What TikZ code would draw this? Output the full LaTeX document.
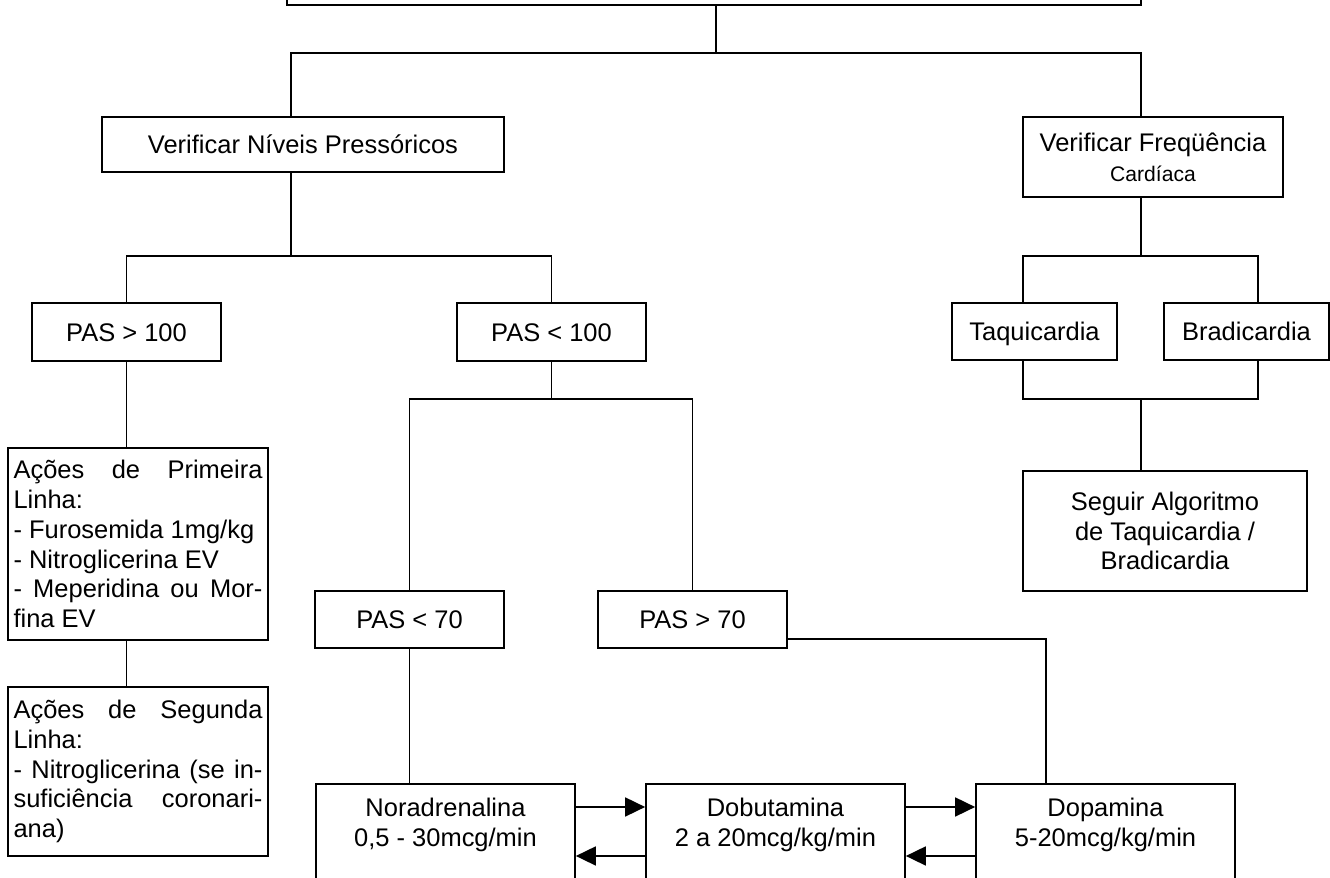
\documentclass[tikz,border=0pt]{standalone}
\usepackage{fontspec}
\setmainfont{Liberation Sans}
\usetikzlibrary{arrows.meta}

\newcommand{\fonte}{\fontsize{14.5}{17}\selectfont}
\newcommand{\fontemenor}{\fontsize{12}{17}\selectfont}

\begin{document}
\begin{tikzpicture}[x=0.02cm, y=-0.02cm,
    caixa/.style={draw, rectangle, line width=1pt, inner sep=0pt, align=center, font=\fonte},
    teste/.style={caixa, minimum width=3.78cm, minimum height=1.15cm, text height=0.37cm, text depth=0cm},
    ritmo/.style={caixa, minimum width=3.3cm, minimum height=1.14cm, text height=0.37cm, text depth=0cm},
    acoes/.style={caixa, minimum width=5.2cm, text width=4.98cm, align=justify},
    droga/.style={caixa, anchor=north, minimum width=5.18cm, inner ysep=0.28cm, text depth=1cm},
    linha/.style={line width=1pt},
    seta/.style={line width=1pt, -{Triangle[length=0.4cm, width=0.38cm]}}
]
\clip (0,0) rectangle (1330,878);

% Topo (cortado)
\node[caixa, minimum width=17.08cm, minimum height=1.3cm] (topo) at (714,-27.5) {};

% Primeiro nivel
\node[caixa, minimum width=8.04cm, minimum height=1.1cm] (nivel) at (303,144.5) {Verificar Níveis Pressóricos};
\node[caixa, minimum width=5.2cm, minimum height=1.6cm] (freq) at (1153,157) {Verificar Freqüência\\{\fontemenor Cardíaca}};

% Pressao
\node[teste] (pas100a) at (126.5,332) {PAS > 100};
\node[teste] (pas100b) at (551.5,332) {PAS < 100};
\node[teste] (pas70a) at (409.5,619.5) {PAS < 70};
\node[teste] (pas70b) at (692.5,619.5) {PAS > 70};

% Frequencia
\node[ritmo] (taqui) at (1034.5,331.5) {Taquicardia};
\node[ritmo] (bradi) at (1246.5,331.5) {Bradicardia};
\node[caixa, minimum width=5.68cm, minimum height=2.4cm] (seguir) at (1165,531) {Seguir Algoritmo\\de Taquicardia /\\Bradicardia};

% Acoes
\node[acoes, minimum height=3.84cm] (primeira) at (138,544) {Ações de Primeira\linebreak Linha:\\- Furosemida 1mg/kg\\- Nitroglicerina EV\\- Meperidina ou Mor-\linebreak fina EV};
\node[acoes, minimum height=3.38cm] (segunda) at (138,771.5) {Ações de Segunda\linebreak Linha:\\- Nitroglicerina (se in-\linebreak suficiência coronari-\linebreak ana)};

% Drogas
\node[droga] (nora) at (445.5,783) {Noradrenalina\\0,5 - 30mcg/min};
\node[droga] (dobu) at (775.5,783) {Dobutamina\\2 a 20mcg/kg/min};
\node[droga] (dopa) at (1105.5,783) {Dopamina\\5-20mcg/kg/min};

% Juncoes
\coordinate (r0) at (716,53);
\coordinate (r0l) at (291,53);
\coordinate (r0r) at (1141,53);
\coordinate (r1) at (291,256);
\coordinate (r2) at (1141,256);
\coordinate (r2l) at (1023,256);
\coordinate (r2r) at (1258,256);
\coordinate (r3) at (1141,399);
\coordinate (r3l) at (1023,399);
\coordinate (r3r) at (1258,399);
\coordinate (r4) at (551.5,399);
\coordinate (r5) at (1046,639);

% Ligacoes
\draw[linha] (topo.south -| r0) -- (r0);
\draw[linha] (nivel.north -| r0l) |- (r0r) -- (freq.north -| r0r);
\draw[linha] (nivel.south -| r1) -- (r1);
\draw[linha] (pas100a.north) |- (r1) -| (pas100b.north);
\draw[linha] (freq.south -| r2) -- (r2);
\draw[linha] (taqui.north -| r2l) |- (r2r) -- (bradi.north -| r2r);
\draw[linha] (taqui.south -| r3l) |- (r3r) -- (bradi.south -| r3r);
\draw[linha] (r3) -- (seguir.north -| r3);
\draw[linha] (pas100a.south) -- (primeira.north -| pas100a.south);
\draw[linha] (primeira.south -| pas100a.south) -- (segunda.north -| pas100a.south);
\draw[linha] (pas100b.south) -- (r4);
\draw[linha] (pas70a.north) |- (r4) -| (pas70b.north);
\draw[linha] (pas70a.south) -- (nora.north -| pas70a.south);
\draw[linha] (pas70b.east |- r5) -- (r5) -- (dopa.north -| r5);

% Setas entre drogas
\draw[seta] ([yshift=-0.48cm]nora.north east) -- ([yshift=-0.48cm]dobu.north west);
\draw[seta] ([yshift=-1.46cm]dobu.north west) -- ([yshift=-1.46cm]nora.north east);
\draw[seta] ([yshift=-0.48cm]dobu.north east) -- ([yshift=-0.48cm]dopa.north west);
\draw[seta] ([yshift=-1.46cm]dopa.north west) -- ([yshift=-1.46cm]dobu.north east);

\end{tikzpicture}
\end{document}
